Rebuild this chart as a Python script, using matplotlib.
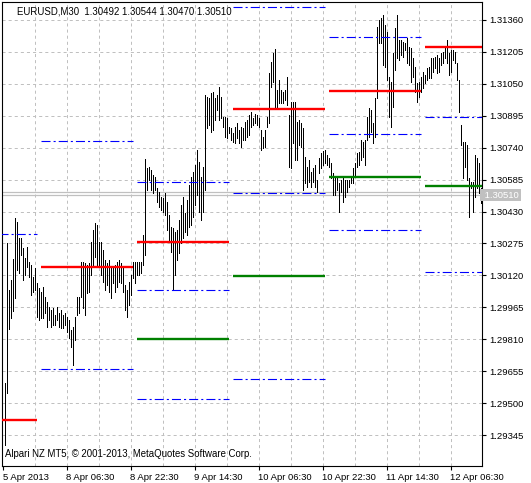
import matplotlib
matplotlib.use('Agg')
import matplotlib.pyplot as plt

plt.rcParams['font.family'] = ['Liberation Sans', 'DejaVu Sans']
plt.rcParams['lines.scale_dashes'] = False

# EURUSD M30, bars from 5 Apr 15:00 (bar index 0)
highs = [
    1.29599, 1.30277, 1.30050, 1.30098, 1.30200, 1.30399, 1.30379, 1.30302, 1.30302, 1.30253,
    1.30205, 1.30258, 1.30185, 1.30171, 1.30113, 1.30156, 1.30084, 1.30059, 1.30040, 1.30064,
    1.30016, 1.29992, 1.29967, 1.29953, 1.29962, 1.29928, 1.29967, 1.29938, 1.29953, 1.29928,
    1.29938, 1.29919, 1.29904, 1.29856, 1.29870, 1.29919, 1.30016, 1.30016, 1.30185, 1.30185,
    1.30180, 1.30171, 1.30180, 1.30282, 1.30340, 1.30374, 1.30365, 1.30282, 1.30282, 1.30243,
    1.30195, 1.30180, 1.30195, 1.30161, 1.30156, 1.30171, 1.30185, 1.30195, 1.30180, 1.30161,
    1.30074, 1.30050, 1.30088, 1.30122, 1.30185, 1.30185, 1.30185, 1.30185, 1.30185, 1.30316,
    1.30685, 1.30641, 1.30646, 1.30631, 1.30607, 1.30597, 1.30544, 1.30525, 1.30500, 1.30496,
    1.30520, 1.30476, 1.30413, 1.30355, 1.30350, 1.30331, 1.30340, 1.30389, 1.30462, 1.30500,
    1.30423, 1.30486, 1.30559, 1.30597, 1.30622, 1.30656, 1.30728, 1.30670, 1.30597, 1.30646,
    1.30995, 1.30985, 1.30980, 1.31005, 1.31009, 1.30980, 1.30995, 1.31034, 1.30985, 1.30888,
    1.30888, 1.30883, 1.30840, 1.30835, 1.30811, 1.30840, 1.30859, 1.30825, 1.30840, 1.30835,
    1.30864, 1.30874, 1.30898, 1.30913, 1.30883, 1.30903, 1.30898, 1.30883, 1.30825, 1.30791,
    1.30825, 1.30888, 1.31102, 1.31155, 1.31199, 1.31218, 1.31019, 1.31068, 1.31019, 1.31010,
    1.31019, 1.31082, 1.30898, 1.30961, 1.30961, 1.30961, 1.30864, 1.30874, 1.30859, 1.30835,
    1.30694, 1.30646, 1.30680, 1.30622, 1.30641, 1.30656, 1.30583, 1.30689, 1.30714, 1.30723,
    1.30728, 1.30704, 1.30690, 1.30665, 1.30617, 1.30592, 1.30592, 1.30568, 1.30583, 1.30592,
    1.30583, 1.30583, 1.30583, 1.30592, 1.30641, 1.30665, 1.30714, 1.30719, 1.30777, 1.30767,
    1.30777, 1.30888, 1.30932, 1.30922, 1.30859, 1.30980, 1.31325, 1.31359, 1.31368, 1.31383,
    1.31334, 1.31300, 1.31082, 1.31058, 1.31199, 1.31320, 1.31383, 1.31262, 1.31262, 1.31252,
    1.31247, 1.31271, 1.31228, 1.31223, 1.31174, 1.31131, 1.31053, 1.31058, 1.31082, 1.31106,
    1.31092, 1.31126, 1.31131, 1.31174, 1.31174, 1.31179, 1.31189, 1.31174, 1.31199, 1.31203,
    1.31223, 1.31262, 1.31199, 1.31213, 1.31213, 1.31203, 1.31150, 1.31068, 1.30850, 1.30767,
    1.30767, 1.30753, 1.30592, 1.30573, 1.30573, 1.30704, 1.30689, 1.30665, 1.30544,
]
lows = [
    1.29298, 1.29550, 1.29860, 1.29914, 1.29948, 1.30011, 1.30147, 1.30132, 1.30219, 1.30098,
    1.30122, 1.30161, 1.30113, 1.30025, 1.30040, 1.30050, 1.29919, 1.29904, 1.29914, 1.29914,
    1.29938, 1.29870, 1.29904, 1.29870, 1.29880, 1.29880, 1.29904, 1.29870, 1.29865, 1.29865,
    1.29880, 1.29846, 1.29817, 1.29773, 1.29686, 1.29807, 1.29928, 1.29938, 1.30016, 1.29962,
    1.29928, 1.30035, 1.30040, 1.30122, 1.30171, 1.30209, 1.30171, 1.30171, 1.30122, 1.30088,
    1.30050, 1.30074, 1.30040, 1.30011, 1.30084, 1.30040, 1.30064, 1.30088, 1.30084, 1.30040,
    1.29953, 1.29919, 1.29977, 1.30025, 1.30108, 1.30084, 1.30122, 1.30122, 1.30132, 1.30171,
    1.30219, 1.30534, 1.30583, 1.30534, 1.30520, 1.30534, 1.30476, 1.30452, 1.30437, 1.30428,
    1.30413, 1.30340, 1.30282, 1.30234, 1.30050, 1.30122, 1.30195, 1.30229, 1.30277, 1.30302,
    1.30331, 1.30316, 1.30355, 1.30365, 1.30403, 1.30462, 1.30510, 1.30428, 1.30389, 1.30428,
    1.30534, 1.30835, 1.30850, 1.30816, 1.30825, 1.30874, 1.30922, 1.30874, 1.30883, 1.30840,
    1.30791, 1.30787, 1.30811, 1.30777, 1.30767, 1.30762, 1.30787, 1.30762, 1.30743, 1.30777,
    1.30777, 1.30791, 1.30801, 1.30840, 1.30850, 1.30859, 1.30850, 1.30840, 1.30728, 1.30738,
    1.30743, 1.30840, 1.30859, 1.31034, 1.31058, 1.30937, 1.30937, 1.30956, 1.30956, 1.30956,
    1.30971, 1.30946, 1.30646, 1.30641, 1.30762, 1.30680, 1.30680, 1.30753, 1.30743, 1.30534,
    1.30568, 1.30549, 1.30573, 1.30549, 1.30573, 1.30549, 1.30525, 1.30617, 1.30641, 1.30656,
    1.30665, 1.30656, 1.30646, 1.30592, 1.30510, 1.30510, 1.30534, 1.30428, 1.30525, 1.30476,
    1.30500, 1.30525, 1.30549, 1.30568, 1.30568, 1.30607, 1.30646, 1.30656, 1.30680, 1.30694,
    1.30656, 1.30777, 1.30791, 1.30816, 1.30762, 1.30791, 1.30980, 1.31247, 1.31247, 1.31141,
    1.31131, 1.31068, 1.30888, 1.30840, 1.30937, 1.31116, 1.31174, 1.31165, 1.31189, 1.31179,
    1.31213, 1.31150, 1.31141, 1.31058, 1.31082, 1.31010, 1.30961, 1.30985, 1.31010, 1.31029,
    1.31053, 1.31068, 1.31077, 1.31077, 1.31106, 1.31126, 1.31102, 1.31106, 1.31141, 1.31150,
    1.31174, 1.31150, 1.31092, 1.31106, 1.31165, 1.31150, 1.31068, 1.30913, 1.30753, 1.30592,
    1.30646, 1.30583, 1.30403, 1.30544, 1.30428, 1.30500, 1.30544, 1.30520, 1.30470,
]

# daily levels: first bar index of each day
day_start = [-30, 18, 66, 114, 162, 210]
red_levels = [1.29419, 1.30163, 1.30282, 1.30927, 1.31016, 1.31228]
green_levels = [None, None, 1.29812, 1.30119, 1.30597, 1.30555]
blue_levels = [
    [1.30323],
    [1.30770, 1.29667],
    [1.30572, 1.30048, 1.29521],
    [1.31424, 1.30520, 1.29616],
    [1.31276, 1.30806, 1.30340],
    [1.30887, 1.30135],
]

bid = 1.30510
ask = 1.30527

price_ticks = [1.29345, 1.29500, 1.29655, 1.29810, 1.29965, 1.30120, 1.30275,
               1.30430, 1.30585, 1.30740, 1.30895, 1.31050, 1.31205, 1.31360]
time_ticks = [-0.9, 31, 63, 95, 127, 159, 191, 223]
time_labels = ['5 Apr 2013', '8 Apr 06:30', '8 Apr 22:30', '9 Apr 14:30',
               '10 Apr 06:30', '10 Apr 22:30', '11 Apr 14:30', '12 Apr 06:30']

W, H = 531, 483
fig = plt.figure(figsize=(W / 100, H / 100), dpi=100)
ax = fig.add_axes([2 / W, (H - 466) / H, 480 / W, 464 / H])
ax.set_xlim(-1.25, 238.75)
ax.set_ylim(1.29196, 1.31446)

grid_kw = dict(color='#c0c0c0', lw=0.72, linestyle=(0, (2.2, 2.2)), zorder=0)
for p in price_ticks:
    ax.axhline(p, **grid_kw)
for g in range(15, 239, 16):
    ax.axvline(g, **grid_kw)

# bid / ask lines
ax.axhline(ask, color='#c0c0c0', lw=0.9, zorder=1)
ax.axhline(bid, color='#c0c0c0', lw=0.9, zorder=1)

# daily level segments
for i, s in enumerate(day_start):
    e = s + 46
    ax.plot([s, e], [red_levels[i]] * 2, color='red', lw=1.7, zorder=3,
            solid_capstyle='butt')
    if green_levels[i] is not None:
        ax.plot([s, e], [green_levels[i]] * 2, color='green', lw=1.7, zorder=3,
                solid_capstyle='butt')
    for b in blue_levels[i]:
        ax.plot([s, e], [b, b], color='blue', lw=0.8, zorder=3,
                linestyle=(0, (6.5, 2.2, 1.5, 2.2)))

# bars, 1 px wide
xs = list(range(len(highs)))
ax.vlines(xs, lows, highs, color='black', lw=0.72, zorder=2, antialiased=False)

for s in ax.spines.values():
    s.set_color('black')
    s.set_linewidth(0.8)

ax.yaxis.tick_right()
ax.set_yticks(price_ticks)
ax.set_yticklabels(['%.5f' % p for p in price_ticks])
ax.tick_params(axis='y', direction='out', length=3, width=0.8, pad=2,
               labelsize=6.8, colors='black')
ax.set_xticks(time_ticks)
ax.set_xticklabels(time_labels)
ax.tick_params(axis='x', direction='out', length=3, width=0.8, pad=2,
               labelsize=6.8, colors='black')
for lab in ax.get_xticklabels():
    lab.set_horizontalalignment('left')

# current price label
ax.text(1.0, bid, ' 1.30510', transform=ax.get_yaxis_transform(),
        ha='left', va='center', fontsize=6.8, color='white', zorder=5,
        bbox=dict(boxstyle='square,pad=0.2', fc='#c0c0c0', ec='none'),
        clip_on=False)

fig.text(17 / W, 1 - 11 / H, 'EURUSD,M30  1.30492 1.30544 1.30470 1.30510',
         fontsize=6.9, va='center', ha='left')
fig.text(5 / W, 1 - 454 / H, 'Alpari NZ MT5, \u00a9 2001-2013, MetaQuotes Software Corp.',
         fontsize=6.9, va='center', ha='left')

fig.savefig('out.png', dpi=100, facecolor='white')
